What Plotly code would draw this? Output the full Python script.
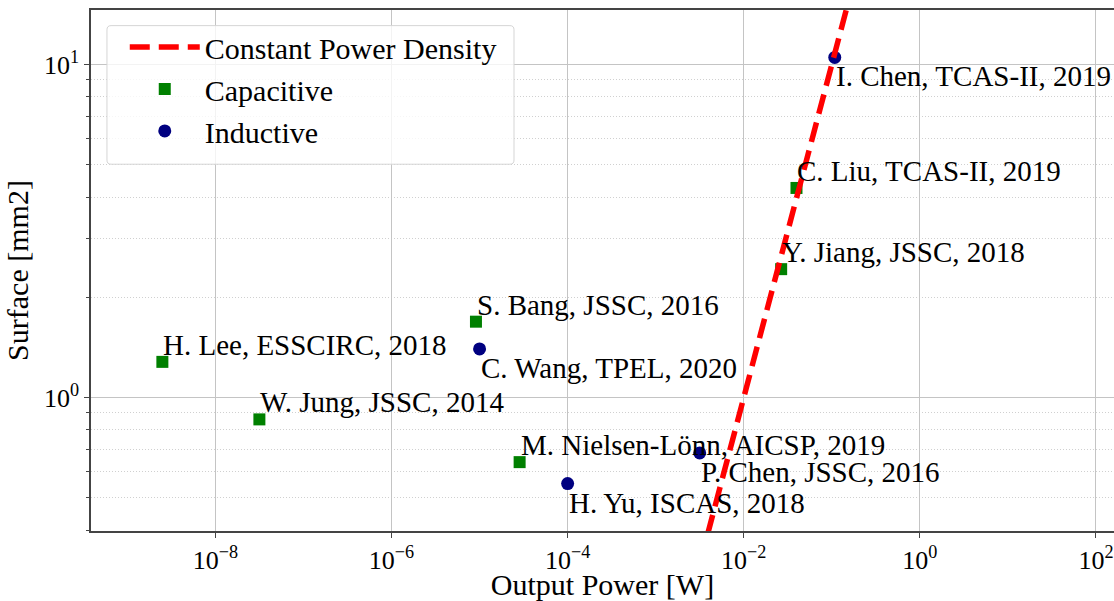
import math
import plotly.graph_objects as go

# capacitive converters
cap_labels = ["H. Lee, ESSCIRC, 2018", "W. Jung, JSSC, 2014", "S. Bang, JSSC, 2016",
              "M. Nielsen-Lönn, AICSP, 2019", "Y. Jiang, JSSC, 2018", "C. Liu, TCAS-II, 2019"]
cap_power = [2.5e-9, 3.16e-8, 9.1e-6, 2.85e-5, 2.66e-2, 3.97e-2]
cap_surface = [1.28, 0.86, 1.69, 0.64, 2.43, 4.26]

# inductive converters
ind_labels = ["I. Chen, TCAS-II, 2019", "C. Wang, TPEL, 2020", "H. Yu, ISCAS, 2018", "P. Chen, JSSC, 2016"]
ind_power = [0.108, 1.0e-5, 1.0e-4, 3.16e-3]
ind_surface = [10.5, 1.40, 0.552, 0.682]

# constant power density reference line (10 mW/mm2)
line_power = [1e-3, 1.0]
line_surface = [0.1, 100.0]

x_tickvals = [1e-8, 1e-6, 1e-4, 1e-2, 1, 100]
x_ticktext = ["10<sup>−8</sup>", "10<sup>−6</sup>", "10<sup>−4</sup>", "10<sup>−2</sup>", "10<sup>0</sup>", "10<sup>2</sup>"]
y_tickvals = [1, 10]
y_ticktext = ["10<sup>0</sup>", "10<sup>1</sup>"]
y_minor = [m * 10.0 ** e for e in (-1, 0) for m in range(2, 10)]

FONT = "Liberation Serif"

fig = go.Figure()
fig.add_trace(go.Scatter(x=cap_power, y=cap_surface, mode="markers", name="Capacitive",
                         marker=dict(symbol="square", size=12, color="#008000"),
                         legendrank=2, cliponaxis=False))
fig.add_trace(go.Scatter(x=ind_power, y=ind_surface, mode="markers", name="Inductive",
                         marker=dict(symbol="circle", size=13, color="#000080"),
                         legendrank=3, cliponaxis=False))
fig.add_trace(go.Scatter(x=line_power, y=line_surface, mode="lines", name="Constant Power Density",
                         line=dict(color="red", width=5.5, dash="20px,9px"), legendrank=1))

for lab, p, s in zip(cap_labels, cap_power, cap_surface):
    fig.add_annotation(x=math.log10(p), y=math.log10(s), text=lab, showarrow=False,
                       xanchor="left", yanchor="middle", xshift=-1, yshift=17,
                       font=dict(family=FONT, size=29, color="black"))
for lab, p, s in zip(ind_labels, ind_power, ind_surface):
    fig.add_annotation(x=math.log10(p), y=math.log10(s), text=lab, showarrow=False,
                       xanchor="left", yanchor="middle", xshift=-1, yshift=-19,
                       font=dict(family=FONT, size=29, color="black"))

# legend frame
x0, x1, y0, y1 = 0.0156, 0.4135, 0.704, 0.970
rx, ry = 0.004, 0.008
path = (f"M {x0+rx},{y0} L {x1-rx},{y0} Q {x1},{y0} {x1},{y0+ry} L {x1},{y1-ry} Q {x1},{y1} {x1-rx},{y1} "
        f"L {x0+rx},{y1} Q {x0},{y1} {x0},{y1-ry} L {x0},{y0+ry} Q {x0},{y0} {x0+rx},{y0} Z")
fig.add_shape(type="path", path=path, xref="paper", yref="paper", layer="above",
              fillcolor="rgba(255,255,255,0.8)", line=dict(color="#d5d5d5", width=1))

fig.update_layout(
    width=1114, height=601,
    margin=dict(l=91, r=0, t=10, b=70),
    plot_bgcolor="white", paper_bgcolor="white",
    font=dict(family=FONT, size=26, color="black"),
    showlegend=True,
    legend=dict(x=0.033, y=0.979, xanchor="left", yanchor="top",
                bgcolor="rgba(0,0,0,0)", borderwidth=0, itemwidth=70,
                font=dict(family=FONT, size=30, color="black")),
    xaxis=dict(type="log", range=[-9.4125, 2.2045], tickvals=x_tickvals, ticktext=x_ticktext,
               showgrid=True, gridcolor="#c4c4c4", gridwidth=1.2,
               showline=True, linecolor="#444", linewidth=1.5, mirror=True,
               ticks="outside", ticklen=5, tickcolor="#444",
               title=dict(text="Output Power [W]", font=dict(size=30), standoff=2),
               zeroline=False),
    yaxis=dict(type="log", range=[-0.4006, 1.1637], tickvals=y_tickvals, ticktext=y_ticktext,
               showgrid=True, gridcolor="#c4c4c4", gridwidth=1.2,
               showline=True, linecolor="#444", linewidth=1.5,
               ticks="outside", ticklen=5, tickcolor="#444",
               minor=dict(tickvals=y_minor, ticks="outside", ticklen=3, tickcolor="#444",
                          showgrid=True, gridcolor="#d0d0d0", griddash="1px,2px", gridwidth=1),
               title=dict(text="Surface [mm2]", font=dict(size=30), standoff=6),
               zeroline=False),
)

fig.write_html("out.html", post_script="document.body.style.margin='0';",
               config={"displayModeBar": False})
